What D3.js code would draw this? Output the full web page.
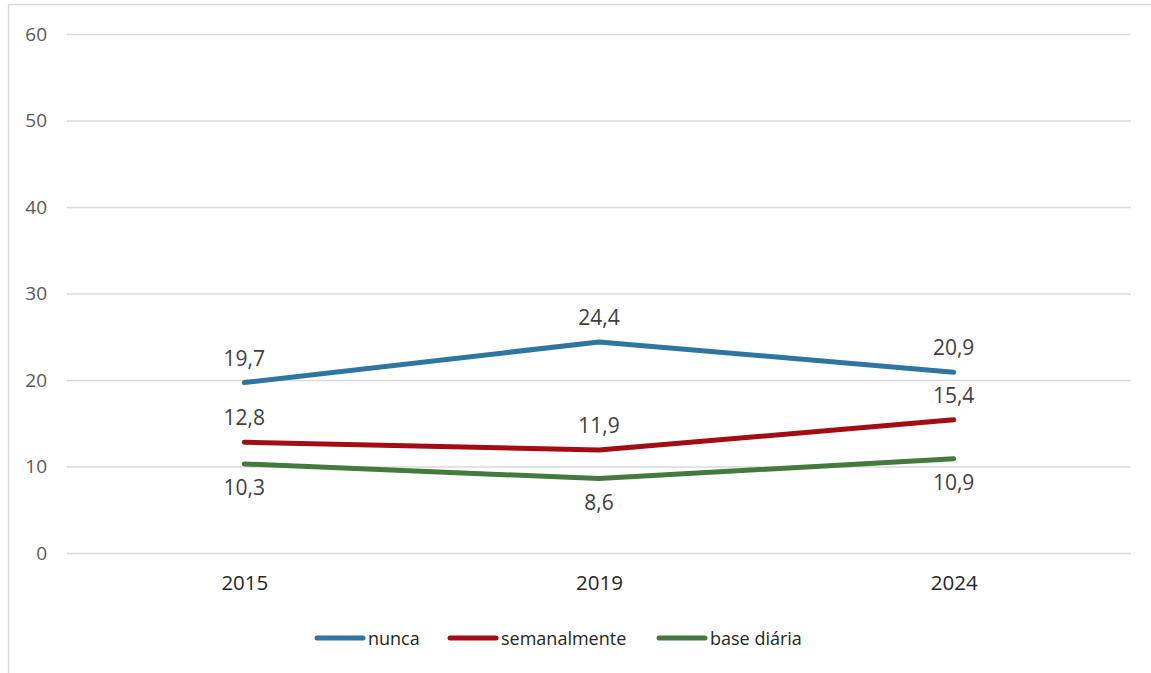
<!DOCTYPE html>
<html>
<head>
<meta charset="utf-8">
<script src="https://cdn.jsdelivr.net/npm/d3@7"></script>
<style>
  html, body { margin: 0; padding: 0; background: #ffffff; }
  svg { display: block; font-family: "Open Sans", "Noto Sans", sans-serif; }
</style>
</head>
<body>
<svg id="chart" width="1151" height="673"></svg>
<script>
// Years on the horizontal axis
const years = ["2015", "2019", "2024"];

// Series values (percent)
const nunca = [19.7, 24.4, 20.9];
const semanalmente = [12.8, 11.9, 15.4];
const baseDiaria = [10.3, 8.6, 10.9];

// Axis ticks
const yTicks = [0, 10, 20, 30, 40, 50, 60];

const series = [
  { name: "nunca", values: nunca, color: "#2e75a1", labelPos: "above" },
  { name: "semanalmente", values: semanalmente, color: "#a30c12", labelPos: "above" },
  { name: "base diária", values: baseDiaria, color: "#437b3e", labelPos: "below" }
];

const svg = d3.select("#chart");
const W = 1151, H = 673;
const plot = { left: 67, right: 1131, top: 34, bottom: 553 };

// Chart frame (left and top edges visible)
svg.append("line").attr("x1", 8.5).attr("x2", 8.5).attr("y1", 4.5).attr("y2", H)
  .attr("stroke", "#d9d9d9").attr("stroke-width", 1.5);
svg.append("line").attr("x1", 8).attr("x2", W).attr("y1", 4.5).attr("y2", 4.5)
  .attr("stroke", "#d9d9d9").attr("stroke-width", 1.5);

const x = d3.scalePoint().domain(years).range([plot.left, plot.right]).padding(0.5);
const y = d3.scaleLinear().domain([0, 60]).range([plot.bottom, plot.top]);

// Horizontal gridlines with value labels
const yAxis = d3.axisLeft(y).tickValues(yTicks)
  .tickSize(-(plot.right - plot.left)).tickPadding(20).tickFormat(d3.format("d"));
const gy = svg.append("g").attr("transform", `translate(${plot.left},0)`).call(yAxis);
gy.select(".domain").remove();
gy.selectAll(".tick line").attr("stroke", "#d9d9d9").attr("stroke-width", 1.3);
gy.selectAll(".tick text").attr("fill", "#595959").attr("font-size", 19)
  .attr("font-family", "'Open Sans', sans-serif");

// Category labels
const xAxis = d3.axisBottom(x).tickSize(0).tickPadding(22);
const gx = svg.append("g").attr("transform", `translate(0,${plot.bottom})`).call(xAxis);
gx.select(".domain").remove();
gx.selectAll(".tick text").attr("fill", "#262626").attr("font-size", 20.5)
  .attr("font-family", "'Open Sans', sans-serif");

const line = d3.line()
  .x((d, i) => x(years[i]))
  .y(d => y(d));

const fmt = v => d3.format(".1f")(v).replace(".", ",");

series.forEach(s => {
  svg.append("path")
    .datum(s.values)
    .attr("d", line)
    .attr("fill", "none")
    .attr("stroke", s.color)
    .attr("stroke-width", 5)
    .attr("stroke-linecap", "round")
    .attr("stroke-linejoin", "round");

  svg.append("g").selectAll("text")
    .data(s.values)
    .join("text")
    .attr("x", (d, i) => x(years[i]))
    .attr("y", d => s.labelPos === "above" ? y(d) - 17 : y(d) + 31)
    .attr("text-anchor", "middle")
    .attr("fill", "#404040")
    .attr("font-size", 21)
    .text(fmt);
});

// Legend
const legendItems = [
  { x: 317, s: series[0] },
  { x: 450, s: series[1] },
  { x: 659, s: series[2] }
];
const lg = svg.append("g");
legendItems.forEach(it => {
  lg.append("line")
    .attr("x1", it.x).attr("x2", it.x + 46)
    .attr("y1", 638).attr("y2", 638)
    .attr("stroke", it.s.color).attr("stroke-width", 5)
    .attr("stroke-linecap", "round");
  lg.append("text")
    .attr("x", it.x + 51).attr("y", 645)
    .attr("fill", "#262626").attr("font-size", 18)
    .text(it.s.name);
});
</script>
</body>
</html>
